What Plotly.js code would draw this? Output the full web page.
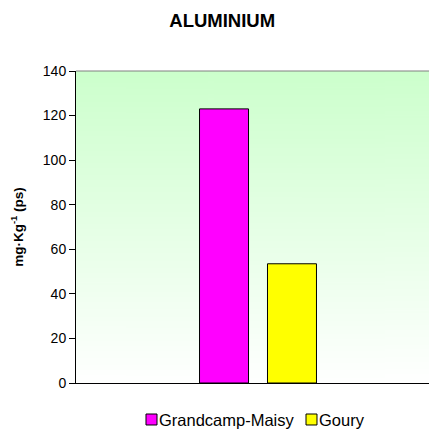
<!DOCTYPE html>
<html>
<head>
<meta charset="utf-8">
<script src="https://cdn.plot.ly/plotly-3.0.1.min.js"></script>
<style>html,body{margin:0;padding:0;background:#fff;}#chart{width:429px;height:429px;}</style>
</head>
<body>
<div id="chart"></div>
<script>
const categories = [''];
const seriesNames = ['Grandcamp-Maisy', 'Goury'];
const grandcampValues = [123];
const gouryValues = [53.5];
const seriesColors = ['#FF00FF', '#FFFF00'];
const yTickValues = [0, 20, 40, 60, 80, 100, 120, 140];

// gradient background image for the plot area
const cv = document.createElement('canvas');
cv.width = 4; cv.height = 256;
const ctx = cv.getContext('2d');
const g = ctx.createLinearGradient(0, 0, 0, 256);
g.addColorStop(0, '#CCFFCC');
g.addColorStop(1, '#FFFFFF');
ctx.fillStyle = g;
ctx.fillRect(0, 0, 4, 256);
const bgURL = cv.toDataURL('image/png');

const seriesValues = [grandcampValues, gouryValues];
const traces = seriesNames.map((name, i) => ({
  type: 'bar', name: name, x: categories, y: seriesValues[i],
  marker: {color: seriesColors[i], line: {color: '#000', width: 1}}, hoverinfo: 'none'
}));

// custom legend (paper coordinates)
const legendSquares = [[0.1983, 0.2295], [0.6516, 0.6827]];
const legendY = [-0.0994, -0.1346];
const legendShapes = legendSquares.map((s, i) => ({
  type: 'rect', xref: 'paper', yref: 'paper', x0: s[0], x1: s[1], y0: legendY[0], y1: legendY[1],
  fillcolor: seriesColors[i], line: {color: '#000', width: 1}
}));
const legendAnn = legendSquares.map((s, i) => ({
  xref: 'paper', yref: 'paper', x: s[1] + 0.004, y: (legendY[0] + legendY[1]) / 2,
  xanchor: 'left', yanchor: 'middle', showarrow: false, text: seriesNames[i],
  font: {size: 16.5, color: '#000'}, borderpad: 0
}));

const layout = {
  width: 429, height: 429,
  margin: {l: 76, r: 0, t: 71, b: 46},
  paper_bgcolor: '#fff',
  plot_bgcolor: 'rgba(0,0,0,0)',
  font: {family: 'Liberation Sans, Arial, sans-serif', color: '#000'},
  title: {text: '<b>ALUMINIUM</b>', font: {size: 18.5, color: '#000'}, x: 0.518, xanchor: 'center', y: 0.953, yanchor: 'middle'},
  barmode: 'group',
  bargap: 0.615,
  bargroupgap: 0.279,
  showlegend: false,
  xaxis: {type: 'category', range: [-0.5156, 0.4844], showticklabels: false, ticks: '',
          showline: true, linecolor: '#000', linewidth: 1, showgrid: false, zeroline: false, fixedrange: true},
  yaxis: {range: [0, 140], tickvals: yTickValues, ticks: 'outside', ticklen: 6, tickcolor: '#000',
          tickfont: {size: 14, color: '#000'}, showline: true, linecolor: '#000', linewidth: 1,
          showgrid: false, zeroline: false, automargin: false,
          title: {text: '<b>mg·Kg<sup>-1</sup> (ps)</b>', font: {size: 13.5, color: '#000'}, standoff: 16}},
  images: [{source: bgURL, xref: 'paper', yref: 'paper', x: 0, y: 1, sizex: 1, sizey: 1,
            sizing: 'stretch', xanchor: 'left', yanchor: 'top', layer: 'below'}],
  shapes: [{type: 'line', xref: 'paper', yref: 'paper', x0: 0, x1: 1, y0: 1, y1: 1,
            line: {color: '#808080', width: 1}}].concat(legendShapes),
  annotations: legendAnn
};

Plotly.newPlot('chart', traces, layout, {staticPlot: true, displayModeBar: false});
</script>
</body>
</html>
